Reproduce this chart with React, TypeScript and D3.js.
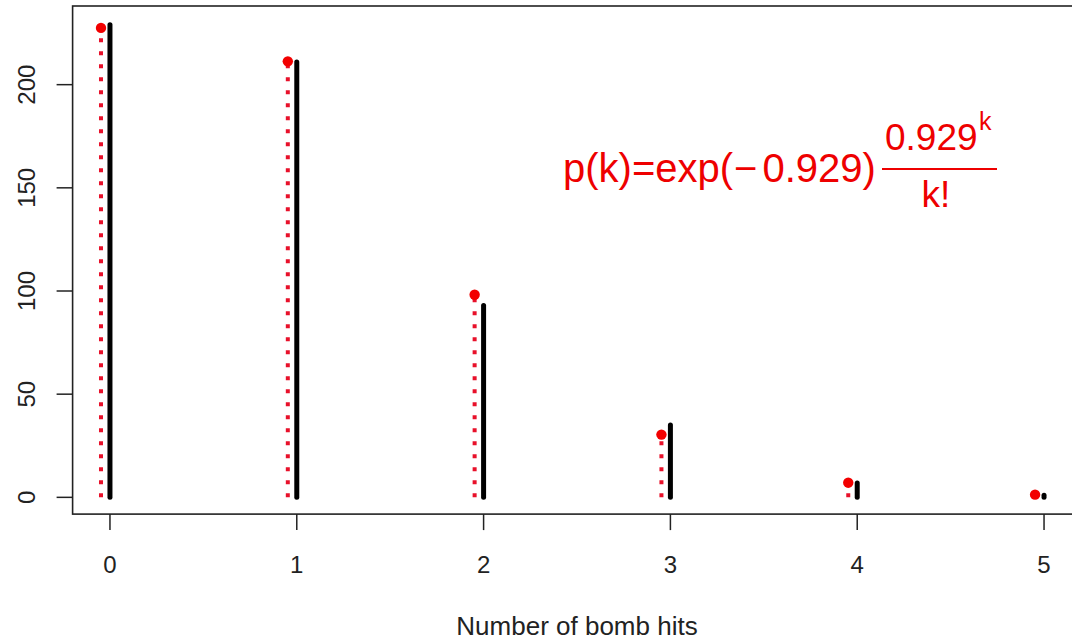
import * as d3 from 'd3'

// bomb hits per area (London data) – observed counts vs Poisson fit
const hits = [0, 1, 2, 3, 4, 5]
const observed = [229, 211, 93, 35, 7, 1]
const expected = [227.5, 211.3, 98.2, 30.4, 7.1, 1.3]
const yTicks = [0, 50, 100, 150, 200]

const W = 1072
const H = 641
const FONT = '"Liberation Sans", Arial, Helvetica, sans-serif'

const App = () => {
  // plot region (R style, 4% padding on both axes)
  const x = d3.scaleLinear().domain([-0.2, 5.2]).range([72.6, 1081.4])
  const y = d3.scaleLinear().domain([-8.12, 238.12]).range([514.1, 6])
  const left = x(-0.2)
  const right = x(5.2)
  const top = y(238.12)
  const bottom = y(-8.12)
  const off = -0.048 // red series drawn a bit left of the tick

  return (
    <svg
      width={W}
      height={H}
      style={{ position: 'absolute', left: 0, top: 0, display: 'block', background: '#fff' }}
      fontFamily={FONT}
    >
      {/* expected (poisson) - dotted red */}
      {hits.map((k, i) => (
        <line
          key={'e' + k}
          x1={x(k + off)}
          x2={x(k + off)}
          y1={y(0)}
          y2={y(expected[i])}
          stroke="#e8102a"
          strokeWidth={4}
          strokeDasharray="4 9"
        />
      ))}
      {hits.map((k, i) => (
        <circle key={'p' + k} cx={x(k + off)} cy={y(expected[i])} r={5.2} fill="#f20000" />
      ))}

      {/* observed - solid black */}
      {hits.map((k, i) => (
        <line
          key={'o' + k}
          x1={x(k)}
          x2={x(k)}
          y1={y(0)}
          y2={y(observed[i])}
          stroke="#000"
          strokeWidth={5}
          strokeLinecap="round"
        />
      ))}

      {/* box */}
      <rect
        x={left}
        y={top}
        width={right - left}
        height={bottom - top}
        fill="none"
        stroke="#222"
        strokeWidth={1.6}
      />

      {/* x axis */}
      {hits.map((k) => (
        <g key={'xt' + k}>
          <line x1={x(k)} x2={x(k)} y1={bottom} y2={bottom + 16} stroke="#222" strokeWidth={1.5} />
          <text x={x(k)} y={573} textAnchor="middle" fontSize={24} fill="#222">
            {k}
          </text>
        </g>
      ))}

      {/* y axis */}
      {yTicks.map((t) => (
        <g key={'yt' + t}>
          <line x1={left - 16} x2={left} y1={y(t)} y2={y(t)} stroke="#222" strokeWidth={1.5} />
          <text
            transform={`translate(35,${y(t)}) rotate(-90)`}
            textAnchor="middle"
            fontSize={24}
            fill="#222"
          >
            {t}
          </text>
        </g>
      ))}

      <text x={(left + right) / 2} y={635} textAnchor="middle" fontSize={26} fill="#222">
        Number of bomb hits
      </text>

      {/* formula */}
      <g fill="#ee0000">
        <text x={563} y={182} fontSize={40}>
          p(k)=exp(<tspan dx={1}>−</tspan>
          <tspan dx={5}>0.929)</tspan>
        </text>
        <text x={885} y={150} fontSize={37}>
          0.929
        </text>
        <text x={979} y={130} fontSize={25}>
          k
        </text>
        <line x1={882} x2={997} y1={169} y2={169} stroke="#ee0000" strokeWidth={2} />
        <text x={936} y={207} fontSize={37} textAnchor="middle">
          k!
        </text>
      </g>
    </svg>
  )
}

export default App
